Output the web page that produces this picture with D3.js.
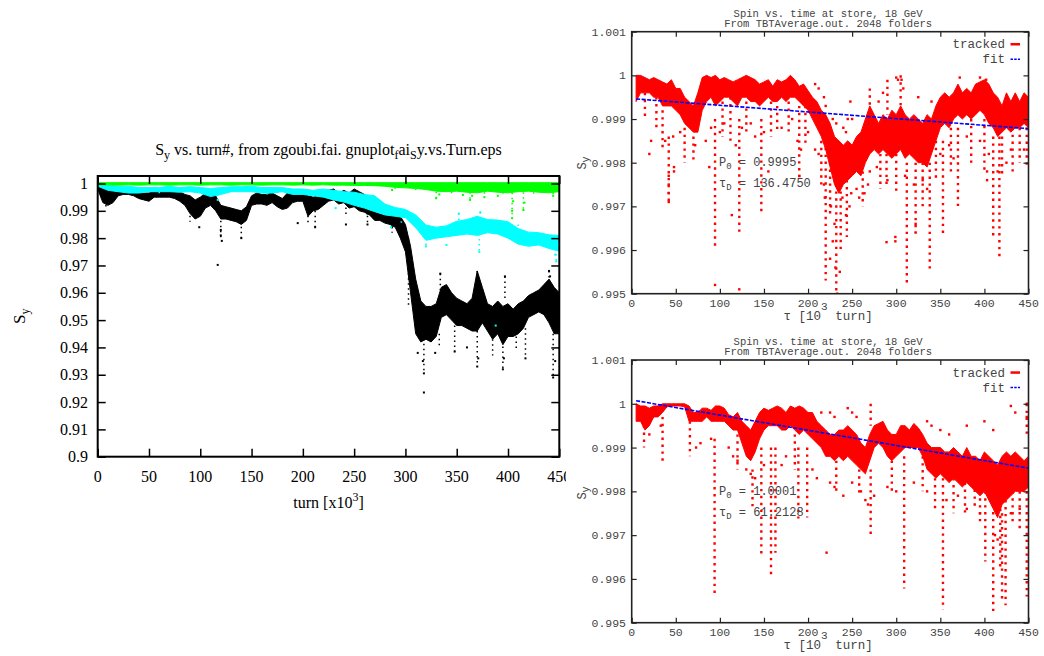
<!DOCTYPE html>
<html><head><meta charset="utf-8">
<script src="https://cdn.jsdelivr.net/npm/d3@7"></script>
<style>body{margin:0;background:#fff}</style>
</head><body><svg id="c" width="1044" height="656"></svg>
<script>
// ---------------- DATA ----------------
// Left panel: Sy vs turn (x in 10^3 turns)
const leftXTicks = [0,50,100,150,200,250,300,350,400,450];
const leftXLabels = ["0","50","100","150","200","250","300","350","400","450"];
const leftYTicks = [0.9,0.91,0.92,0.93,0.94,0.95,0.96,0.97,0.98,0.99,1];
const leftYLabels = ["0.9","0.91","0.92","0.93","0.94","0.95","0.96","0.97","0.98","0.99","1"];

const grid10 = [0,10,20,30,40,50,60,70,80,90,100,110,120,130,140,150,160,170,180,190,200,210,220,230,240,250,260,270,280,290,300,310,320,330,340,350,360,370,380,390,400,410,420,430,440,450];
const greenHi = [1.0003,1.0003,1.0003,1.0003,1.0003,1.0003,1.0003,1.0003,1.0003,1.0003,1.0003,1.0003,1.0003,1.0003,1.0003,1.0003,1.0003,1.0003,1.0003,1.0003,1.0003,1.0003,1.0003,1.0003,1.0003,1.0003,1.0003,1.0003,1.0003,1.0003,1.0003,1.0003,1.0003,1.0003,1.0003,1.0003,1.0003,1.0003,1.0003,1.0003,1.0003,1.0003,1.0003,1.0003,1.0003,1.0003];
const greenLo = [0.9995,0.9995,0.9994,0.9995,0.9994,0.9995,0.9995,0.9994,0.9995,0.9995,0.9994,0.9995,0.9995,0.9994,0.9995,0.9995,0.9994,0.9995,0.9995,0.9994,0.9995,0.9994,0.9995,0.9994,0.9994,0.9993,0.9993,0.9992,0.9990,0.9986,0.9984,0.9982,0.9978,0.9972,0.9970,0.9972,0.9968,0.9966,0.9972,0.9968,0.9966,0.9970,0.9972,0.9968,0.9966,0.9970];
const greenSpikes = [[287,0.9976],[330,0.9946],[333,0.9960],[363,0.9940],[365,0.9955],[377,0.9950],[404,0.9873],[404,0.9900],[405,0.9935],[415,0.9903],[416,0.9930],[444,0.9955],[356,0.9958],[390,0.9955]];
const greenStreaks = [[330,0.9970,0.9946],[363,0.9968,0.9940],[377,0.9968,0.9950],[404,0.9966,0.9873],[415,0.9968,0.9903],[444,0.9966,0.9955],[395,0.9968,0.9958],[425,0.9968,0.9960],[345,0.9970,0.9962],[310,0.9982,0.9970],[290,0.9986,0.9976]];

const cyanHi = [1.0003,0.9995,0.9990,0.9990,0.9985,0.9985,0.9985,0.9990,0.9985,0.9988,0.9985,0.9982,0.9985,0.9988,0.9988,0.9990,0.9985,0.9985,0.9985,0.9980,0.9980,0.9975,0.9980,0.9975,0.9970,0.9968,0.9960,0.9955,0.9925,0.9912,0.9905,0.9885,0.9848,0.9840,0.9845,0.9862,0.9868,0.9880,0.9868,0.9866,0.9860,0.9835,0.9822,0.9820,0.9812,0.9810];
const cyanLo = [0.9990,0.9975,0.9970,0.9965,0.9965,0.9970,0.9970,0.9970,0.9968,0.9970,0.9965,0.9952,0.9960,0.9970,0.9970,0.9970,0.9965,0.9965,0.9970,0.9960,0.9960,0.9955,0.9950,0.9940,0.9932,0.9920,0.9910,0.9897,0.9885,0.9880,0.9875,0.9838,0.9792,0.9800,0.9805,0.9810,0.9815,0.9810,0.9820,0.9815,0.9800,0.9778,0.9770,0.9775,0.9762,0.9752];
const cyanSpikes = [[117,0.9940],[232,0.9910],[286,0.9840],[352,0.9890],[373,0.9895],[372,0.9750],[388,0.9480],[447,0.9715],[446,0.9740],[320,0.9770],[340,0.9775]];
const cyanStreaks = [[117,0.9960,0.9940],[372,0.9815,0.9750],[447,0.9760,0.9715],[373,0.9895,0.9868],[352,0.9890,0.9860],[320,0.9835,0.9770],[265,0.9930,0.9895],[296,0.9880,0.9850],[410,0.9850,0.9800],[60,0.9970,0.9955],[165,0.9965,0.9950]];

const grid5 = [0,5,10,15,20,25,30,35,40,45,50,55,60,65,70,75,80,85,90,95,100,105,110,115,120,125,130,135,140,145,150,155,160,165,170,175,180,185,190,195,200,205,210,215,220,225,230,235,240,245,250,255,260,265,270,275,280,285,290,295,300,305,310,315,320,325,330,335,340,345,350,355,360,365,370,375,380,385,390,395,400,405,410,415,420,425,430,435,440,445,450];
const blackHi = [1.0000,0.9990,0.9980,0.9975,0.9980,0.9980,0.9980,0.9975,0.9965,0.9965,0.9965,0.9970,0.9970,0.9975,0.9970,0.9970,0.9970,0.9960,0.9955,0.9940,0.9950,0.9965,0.9960,0.9955,0.9920,0.9915,0.9910,0.9905,0.9900,0.9915,0.9955,0.9965,0.9960,0.9960,0.9965,0.9955,0.9945,0.9965,0.9965,0.9970,0.9975,0.9955,0.9950,0.9955,0.9960,0.9975,0.9980,0.9965,0.9975,0.9965,0.9980,0.9970,0.9960,0.9945,0.9925,0.9910,0.9905,0.9915,0.9900,0.9880,0.9850,0.9770,0.9650,0.9570,0.9550,0.9550,0.9560,0.9620,0.9630,0.9600,0.9580,0.9570,0.9560,0.9580,0.9680,0.9620,0.9560,0.9550,0.9570,0.9550,0.9560,0.9540,0.9560,0.9570,0.9590,0.9600,0.9610,0.9630,0.9650,0.9620,0.9600];
const blackLo = [0.9980,0.9930,0.9920,0.9930,0.9955,0.9960,0.9960,0.9955,0.9945,0.9940,0.9935,0.9950,0.9950,0.9950,0.9950,0.9945,0.9935,0.9920,0.9890,0.9870,0.9880,0.9910,0.9920,0.9900,0.9870,0.9870,0.9865,0.9860,0.9850,0.9865,0.9920,0.9925,0.9925,0.9920,0.9930,0.9915,0.9905,0.9910,0.9930,0.9935,0.9935,0.9880,0.9900,0.9905,0.9920,0.9935,0.9940,0.9925,0.9930,0.9910,0.9915,0.9900,0.9895,0.9885,0.9865,0.9865,0.9855,0.9850,0.9840,0.9800,0.9750,0.9600,0.9450,0.9420,0.9430,0.9420,0.9440,0.9510,0.9520,0.9500,0.9480,0.9480,0.9470,0.9460,0.9460,0.9490,0.9460,0.9430,0.9450,0.9410,0.9440,0.9440,0.9450,0.9470,0.9510,0.9520,0.9530,0.9520,0.9490,0.9450,0.9450];
const blackSpikes = [[117,0.9702],[120,0.9830],[120,0.9810],[121,0.9790],[99,0.9840],[140,0.9800],[195,0.9855],[212,0.9840],[242,0.9850],[263,0.9890],[263,0.9850],[287,0.9840],[318,0.9235],[318,0.9305],[317,0.9350],[348,0.9385],[370,0.9330],[371,0.9360],[360,0.9400],[395,0.9320],[396,0.9360],[417,0.9360],[444,0.9290],[446,0.9350],[334,0.9670],[397,0.9660],[440,0.9680],[441,0.9660],[312,0.9380],[329,0.9380]];
const blackStreaks = [[8,0.9940,0.9910],[90,0.9900,0.9860],[120,0.9900,0.9790],[140,0.9860,0.9800],[205,0.9900,0.9850],[212,0.9900,0.9840],[242,0.9930,0.9880],[263,0.9900,0.9850],[287,0.9860,0.9820],[303,0.9800,0.9550],[318,0.9450,0.9305],[348,0.9480,0.9385],[370,0.9460,0.9330],[395,0.9440,0.9320],[417,0.9470,0.9360],[444,0.9450,0.9290],[333,0.9450,0.9400],[370,0.9680,0.9590],[440,0.9680,0.9600],[334,0.9670,0.9600],[397,0.9660,0.9570],[385,0.9430,0.9370],[408,0.9440,0.9390]];

// Right panels (x in 10^3 turns)
const rightXTicks = [0,50,100,150,200,250,300,350,400,450];
const rightXLabels = ["0","50","100","150","200","250","300","350","400","450"];
const rightYTicks = [0.995,0.996,0.997,0.998,0.999,1,1.001];
const rightYLabels = ["0.995","0.996","0.997","0.998","0.999","1","1.001"];

const gridR = [5,10,15,20,25,30,35,40,45,50,55,60,65,70,75,80,85,90,95,100,105,110,115,120,125,130,135,140,145,150,155,160,165,170,175,180,185,190,195,200,205,210,215,220,225,230,235,240,245,250,255,260,265,270,275,280,285,290,295,300,305,310,315,320,325,330,335,340,345,350,355,360,365,370,375,380,385,390,395,400,405,410,415,420,425,430,435,440,445,450];
const topHi = [1.0000,1.0000,0.99995,0.9999,0.99995,0.9999,0.99985,0.9998,0.9999,0.9997,0.9997,0.9995,0.9994,0.9993,0.9996,0.99995,1.0000,0.99995,1.0000,0.9999,0.99995,0.9999,0.99985,0.9999,0.99995,1.0000,0.99995,0.9999,0.9998,0.99985,0.9999,0.99975,0.9999,0.99985,0.9999,1.0000,0.9999,0.99975,0.9998,0.99965,0.9995,0.9994,0.9992,0.9991,0.9989,0.9986,0.9985,0.9984,0.9985,0.9984,0.9986,0.9987,0.9990,0.9993,0.9991,0.9989,0.9991,0.9990,0.9992,0.9991,0.9993,0.9991,0.9990,0.9991,0.9990,0.9989,0.9991,0.9990,0.9993,0.9995,0.9996,0.9995,0.9996,0.9998,0.9996,0.9997,0.9996,0.9998,0.99985,0.9999,0.9998,0.9996,0.9995,0.9993,0.9996,0.9994,0.9996,0.9994,0.9996,0.9995];
const topLo = [0.9994,0.9996,0.9996,0.9996,0.9995,0.9995,0.9993,0.9993,0.9993,0.9992,0.9991,0.9989,0.9988,0.9987,0.9987,0.9992,0.9994,0.9995,0.9993,0.9994,0.9995,0.9995,0.9994,0.9993,0.9995,0.9995,0.9994,0.9994,0.9993,0.9994,0.9995,0.9994,0.9994,0.9995,0.9994,0.9995,0.9995,0.9994,0.9993,0.9992,0.9990,0.9988,0.9986,0.9983,0.9979,0.9975,0.9973,0.9975,0.9976,0.9977,0.9978,0.9977,0.9980,0.9982,0.9983,0.9982,0.9983,0.9982,0.9981,0.9982,0.9983,0.9981,0.9982,0.9981,0.9980,0.9980,0.9979,0.9982,0.9985,0.9988,0.9989,0.9988,0.9990,0.9991,0.9990,0.9991,0.9990,0.9991,0.9992,0.9991,0.9989,0.9988,0.9986,0.9987,0.9988,0.9987,0.9988,0.9988,0.9989,0.9988];
const topSpikes = [[42,0.9977],[42,0.9975],[42,0.9973],[42,0.9971],[48,0.9979],[48,0.9978],[88,0.9979],[94.5,0.9952],[113.5,0.9968],[122,0.9951],[155,0.9978],[190,0.9977],[225,0.9958],[228,0.9962],[230,0.9966],[231,0.9956],[233,0.9950],[236,0.9955],[243,0.9968],[247,0.9970],[264,0.9973],[268,0.9975],[289,0.99618],[299,0.9963],[299,0.9962],[322,0.9964],[322,0.9966],[403,0.9978],[403,0.9976],
[20,0.9982],[22,0.9985],[38,0.9985],[47,0.9986],[55,0.9987],[72,0.9984],[84,0.9985],[90,0.9988],[100,0.9987],[105,0.9989],[118,0.9984],[125,0.9988],[135,0.9989],[140,0.9986],[150,0.9987],[170,0.9988],[182,0.9990],[188,0.9985],[192,0.9983],[200,0.9987],[208,0.9983],[212,0.9982],[218,0.9975],[219,0.9972],[226,0.9970],[239,0.9972],[249,0.9973],[255,0.9974],[258,0.9972],[270,0.9978],[278,0.9979],[290,0.9976],[310,0.9977],[320,0.9975],[330,0.9976],[335,0.9974],[350,0.9982],[360,0.9984],[365,0.9981],[380,0.9986],[395,0.9985],[405,0.9982],[415,0.9978],[425,0.9980],[430,0.9983],[445,0.9983],
[300,0.99995],[302,0.9999],[306,0.9999],[308,0.9997],[325,0.9995],[340,0.9994],[248,0.9994],[250,0.9990],[280,0.9994],[285,0.9996],[372,0.99995],[395,0.99995],[402,0.9999],[208,0.9998],[212,0.9997],[218,0.9995],[220,0.9993],[228,0.9990],[232,0.9989],[240,0.9988],[243,0.9987],[245,0.9990]];
const topStreaks = [[42,0.9986,0.9971],[94.5,0.9990,0.9960],[122,0.9990,0.9964],[147,0.9990,0.9968],[220,0.9985,0.9953],[232,0.9975,0.9950],[244,0.9976,0.9963],[312,0.9980,0.9952],[338,0.9980,0.9955],[353,0.9985,0.9963],[370,0.9988,0.9970],[410,0.9986,0.9963],[417,0.9986,0.9958],[35,0.9992,0.9983],[60,0.9988,0.9980],[70,0.9986,0.9980],[103,0.9994,0.9986],[130,0.9994,0.9987],[165,0.9993,0.9987],[190,0.9993,0.9976],[215,0.9985,0.9975],[225,0.9980,0.9968],[237,0.9975,0.9960],[289,0.9982,0.9975],[300,0.9982,0.9973],[322,0.9980,0.9964],[345,0.9985,0.9976],[400,0.9990,0.9978],[420,0.9986,0.9977],[440,0.9988,0.9980],[305,1.0000,0.9992],[290,0.9999,0.9991],[270,0.9997,0.9992],[15,0.9996,0.9990],[28,0.9995,0.9988],[112,0.9995,0.9985],[158,0.9994,0.9986],[178,0.9994,0.9987],[197,0.9993,0.9984],[262,0.9978,0.9970],[282,0.9982,0.9974],[330,0.9980,0.9970],[362,0.9988,0.9978],[385,0.9990,0.9980],[432,0.9988,0.9978],[448,0.9988,0.9979]];
const topFitX = [5,450];
const topFitY = [0.99946,0.99878];

const botHi = [1.0000,0.99995,0.99995,0.9999,0.99995,0.99995,1.0000,1.0000,1.0000,1.0000,1.0000,1.0000,0.99995,0.9998,0.9998,0.9999,0.9999,0.99985,0.99995,0.99995,0.9999,0.99975,0.9997,0.9998,0.9996,0.9995,0.9994,0.9996,0.9998,0.9999,0.99985,0.9999,0.99995,0.9999,0.9998,0.99995,0.9999,0.99995,0.9999,0.9998,0.9998,0.9996,0.9995,0.9994,0.9993,0.9993,0.9994,0.9994,0.9995,0.9994,0.9993,0.9991,0.9990,0.9993,0.9995,0.99955,0.9996,0.9994,0.9993,0.9993,0.9995,0.9995,0.9994,0.99955,0.99945,0.9993,0.9991,0.9990,0.9990,0.9990,0.9989,0.9989,0.9990,0.9989,0.9988,0.9990,0.9988,0.9988,0.9987,0.9989,0.9988,0.9987,0.9986,0.9988,0.9989,0.9988,0.9989,0.9988,0.9987,0.9988];
const botLo = [0.9996,0.9996,0.9994,0.9995,0.9997,0.9997,0.9998,0.99993,0.99995,0.99995,0.99995,0.99993,0.9996,0.9996,0.9996,0.9996,0.9997,0.9996,0.9996,0.9996,0.9996,0.9995,0.9994,0.9994,0.9991,0.9988,0.9987,0.9989,0.9992,0.9994,0.9995,0.9995,0.9995,0.9994,0.9994,0.9995,0.9994,0.9993,0.9994,0.9993,0.9992,0.9991,0.9990,0.9988,0.9988,0.9987,0.9988,0.9987,0.9988,0.9987,0.9986,0.9985,0.9984,0.9987,0.9990,0.9991,0.9990,0.9988,0.9987,0.9988,0.9989,0.9990,0.9990,0.9990,0.9990,0.9988,0.9985,0.9984,0.9983,0.9984,0.9983,0.9982,0.9983,0.9982,0.9981,0.9982,0.9981,0.9980,0.9979,0.9980,0.9978,0.9976,0.9974,0.9977,0.9978,0.9979,0.9980,0.9980,0.9980,0.9981];
const botSpikes = [[20,0.9993],[33,0.9995],[73,0.9990],[78,0.9991],[90,0.9992],[110,0.9990],[115,0.9988],[120,0.9987],[130,0.9985],[135,0.9984],[140,0.9983],[150,0.9986],[170,0.9986],[175,0.9988],[205,0.9985],[210,0.9983],[221,0.9966],[225,0.9982],[230,0.9981],[240,0.9979],[250,0.9982],[260,0.9980],[265,0.9978],[268,0.9977],[275,0.9979],[290,0.9981],[300,0.9980],[320,0.9982],[335,0.9980],[357,0.9978],[370,0.9979],[380,0.9976],[395,0.9975],[412,0.9970],[415,0.9969],[430,0.9975],[440,0.9976],
[250,0.9998],[255,0.9997],[245,0.9999],[230,0.9997],[335,0.9996],[340,0.9995],[350,0.9994],[360,0.9993],[380,0.9995],[400,0.9996],[410,0.9994],[430,0.99995],[435,0.9998],[448,1.0],[448,0.9997],[225,0.9998],[215,0.9998]];
const botStreaks = [[14,0.9995,0.9990],[35,0.9997,0.9986],[66,0.9996,0.9988],[94,0.9992,0.9956],[137,0.9985,0.9976],[147,0.9990,0.9965],[158,0.9990,0.9961],[163,0.9990,0.9966],[189,0.9990,0.99738],[199,0.9990,0.9974],[271,0.9985,0.9970],[271,1.0000,0.9995],[309,0.9988,0.99578],[344,0.9983,0.9976],[353,0.9983,0.9953],[389,0.9982,0.9976],[401,0.9980,0.9964],[410,0.9980,0.9952],[418,0.9976,0.9962],[420,0.9975,0.9955],[424,0.9978,0.9954],[448,0.9980,0.9956],[448,1.0000,0.9993],[120,0.9993,0.9985],[185,0.9993,0.9985],[232,0.9987,0.9980],[258,0.9985,0.9979],[295,0.9987,0.9980],[330,0.9988,0.9980],[365,0.9983,0.9975],[378,0.9982,0.9975],[395,0.9980,0.9973],[432,0.9980,0.9973],[440,0.9980,0.9971]];
const botFitX = [5,450];
const botFitY = [1.00007,0.99853];

// ---------------- DRAW ----------------
const svg = d3.select("#c");
svg.append("rect").attr("width",1044).attr("height",656).attr("fill","#fff");

// ===== Left panel =====
const lx = d3.scaleLinear().domain([0,450]).range([97.7,559.3]);
const ly = d3.scaleLinear().domain([0.9,1]).range([456.7,183.5]);
const lyTop = 1.00275;
const defs = svg.append("defs");
defs.append("clipPath").attr("id","lclip").append("rect").attr("x",0).attr("y",0).attr("width",566).attr("height",656);
defs.append("clipPath").attr("id","lplot").append("rect").attr("x",lx(0)).attr("y",ly(lyTop)).attr("width",lx(450)-lx(0)).attr("height",ly(0.9)-ly(lyTop));
const LG = svg.append("g").attr("clip-path","url(#lclip)");
const serif = "'Liberation Serif','DejaVu Serif',serif";

const LP = LG.append("g").attr("clip-path","url(#lplot)");
function band(g, xs, hi, lo, xS, yS, color){
  const data = xs.map((x,i)=>({x, hi:hi[i], lo:lo[i]}));
  g.append("path").datum(data)
   .attr("d", d3.area().x(d=>xS(d.x)).y0(d=>yS(d.lo)).y1(d=>yS(d.hi)))
   .attr("fill", color).attr("stroke", color).attr("stroke-width",1);
}
function dots(g, pts, xS, yS, color, s){
  g.selectAll(null).data(pts).enter().append("rect")
   .attr("x", d=>xS(d[0])-s/2).attr("y", d=>yS(d[1])-s/2)
   .attr("width", s).attr("height", s).attr("fill", color);
}
function streaks(g, seg, xS, yS, color, w, dash){
  g.selectAll(null).data(seg).enter().append("line")
   .attr("x1", d=>xS(d[0])).attr("x2", d=>xS(d[0]))
   .attr("y1", d=>yS(d[1])).attr("y2", d=>yS(d[2]))
   .attr("stroke", color).attr("stroke-width", w).attr("stroke-dasharray", dash);
}
band(LP, grid5, blackHi, blackLo, lx, ly, "#000");
streaks(LP, blackStreaks, lx, ly, "#000", 1.5, "1.5,3.5");
dots(LP, blackSpikes, lx, ly, "#000", 2);
band(LP, grid10, cyanHi, cyanLo, lx, ly, "#00ffff");
streaks(LP, cyanStreaks, lx, ly, "#00ffff", 1.5, "1.5,3.5");
dots(LP, cyanSpikes, lx, ly, "#00ffff", 2);
band(LP, grid10, greenHi, greenLo, lx, ly, "#00ff00");
streaks(LP, greenStreaks, lx, ly, "#00ff00", 1.5, "1.5,3.5");
dots(LP, greenSpikes, lx, ly, "#00ff00", 2);

// frame
LG.append("rect").attr("x",lx(0)).attr("y",ly(lyTop)).attr("width",lx(450)-lx(0)).attr("height",ly(0.9)-ly(lyTop))
  .attr("fill","none").attr("stroke","#000").attr("stroke-width",2);
function ticks(g, axis, tr){
  const a = g.append("g").attr("transform",tr).call(axis);
  a.select(".domain").remove();
  a.selectAll("text").remove();
  return a;
}
const tl = 8;
ticks(LG, d3.axisBottom(lx).tickValues(leftXTicks).tickSizeInner(-tl).tickSizeOuter(0), `translate(0,${ly(0.9)})`).selectAll("line").attr("stroke","#000").attr("stroke-width",1.5);
ticks(LG, d3.axisTop(lx).tickValues(leftXTicks).tickSizeInner(-tl).tickSizeOuter(0), `translate(0,${ly(lyTop)})`).selectAll("line").attr("stroke","#000").attr("stroke-width",1.5);
ticks(LG, d3.axisLeft(ly).tickValues(leftYTicks).tickSizeInner(-tl).tickSizeOuter(0), `translate(${lx(0)},0)`).selectAll("line").attr("stroke","#000").attr("stroke-width",1.5);
ticks(LG, d3.axisRight(ly).tickValues(leftYTicks).tickSizeInner(-tl).tickSizeOuter(0), `translate(${lx(450)},0)`).selectAll("line").attr("stroke","#000").attr("stroke-width",1.5);

LG.selectAll(null).data(leftXTicks).enter().append("text")
  .attr("x", d=>lx(d)).attr("y", 481.5).attr("text-anchor","middle")
  .attr("font-family",serif).attr("font-size",16).attr("fill","#000")
  .text((d,i)=>leftXLabels[i]);
LG.selectAll(null).data(leftYTicks).enter().append("text")
  .attr("x", 88).attr("y", d=>ly(d)+5.5).attr("text-anchor","end")
  .attr("font-family",serif).attr("font-size",16).attr("fill","#000")
  .text((d,i)=>leftYLabels[i]);

// title
const lt = LG.append("text").attr("x",(lx(0)+lx(450))/2).attr("y",155).attr("text-anchor","middle")
  .attr("font-family",serif).attr("font-size",16).attr("fill","#000");
lt.append("tspan").text("S");
lt.append("tspan").attr("dy",4).attr("font-size",12).text("y");
lt.append("tspan").attr("dy",-4).text(" vs. turn#, from zgoubi.fai. gnuplot");
lt.append("tspan").attr("dy",4).attr("font-size",12).text("f");
lt.append("tspan").attr("dy",-4).text("ai");
lt.append("tspan").attr("dy",4).attr("font-size",12).text("S");
lt.append("tspan").attr("dy",-4).text("y.vs.Turn.eps");

// x label
const lxl = LG.append("text").attr("x",(lx(0)+lx(450))/2).attr("y",508).attr("text-anchor","middle")
  .attr("font-family",serif).attr("font-size",16).attr("fill","#000");
lxl.append("tspan").text("turn [x10");
lxl.append("tspan").attr("dy",-7).attr("font-size",12).text("3");
lxl.append("tspan").attr("dy",7).text("]");
// y label
const lyl = LG.append("text").attr("transform",`translate(25,${(ly(0.9)+ly(lyTop))/2}) rotate(-90)`)
  .attr("text-anchor","middle").attr("font-family",serif).attr("font-size",17).attr("fill","#000");
lyl.append("tspan").text("S");
lyl.append("tspan").attr("dy",4).attr("font-size",12).text("y");

// ===== Right panels =====
const mono = "'Liberation Mono','DejaVu Sans Mono',monospace";
const grey = "#444";
function rightPanel(o){
  const x = d3.scaleLinear().domain([0,450]).range([631.7,1028.5]);
  const y = d3.scaleLinear().domain([0.995,1.001]).range([o.yb,o.yt]);
  const g = svg.append("g");
  const cid = "rc"+o.id;
  defs.append("clipPath").attr("id",cid).append("rect").attr("x",x(0)).attr("y",y(1.001)).attr("width",x(450)-x(0)).attr("height",y(0.995)-y(1.001));
  const P = g.append("g").attr("clip-path",`url(#${cid})`);
  band(P, gridR, o.hi, o.lo, x, y, "#ff0000");
  streaks(P, o.streaks, x, y, "#ff0000", 2.4, "2.4,4.5");
  dots(P, o.spikes, x, y, "#ff0000", 2.4);
  const fit = o.fitX.map((v,i)=>[v,o.fitY[i]]);
  P.append("path").datum(fit).attr("d", d3.line().x(d=>x(d[0])).y(d=>y(d[1])))
    .attr("stroke","#0000ff").attr("stroke-width",1.6).attr("stroke-dasharray","4,1.5").attr("fill","none");
  g.append("rect").attr("x",x(0)).attr("y",y(1.001)).attr("width",x(450)-x(0)).attr("height",y(0.995)-y(1.001))
    .attr("fill","none").attr("stroke","#222").attr("stroke-width",1.6);
  const t = 5;
  ticks(g, d3.axisBottom(x).tickValues(rightXTicks).tickSizeInner(-t).tickSizeOuter(0), `translate(0,${y(0.995)})`).selectAll("line").attr("stroke","#222").attr("stroke-width",1.2);
  ticks(g, d3.axisTop(x).tickValues(rightXTicks).tickSizeInner(-t).tickSizeOuter(0), `translate(0,${y(1.001)})`).selectAll("line").attr("stroke","#222").attr("stroke-width",1.2);
  ticks(g, d3.axisLeft(y).tickValues(rightYTicks).tickSizeInner(-t).tickSizeOuter(0), `translate(${x(0)},0)`).selectAll("line").attr("stroke","#222").attr("stroke-width",1.2);
  ticks(g, d3.axisRight(y).tickValues(rightYTicks).tickSizeInner(-t).tickSizeOuter(0), `translate(${x(450)},0)`).selectAll("line").attr("stroke","#222").attr("stroke-width",1.2);
  g.selectAll(null).data(rightXTicks).enter().append("text")
    .attr("x", d=>x(d)).attr("y", y(0.995)+13).attr("text-anchor","middle")
    .attr("font-family",mono).attr("font-size",11.5).attr("fill",grey)
    .text((d,i)=>rightXLabels[i]);
  g.selectAll(null).data(rightYTicks).enter().append("text")
    .attr("x", 626).attr("y", d=>y(d)+4).attr("text-anchor","end")
    .attr("font-family",mono).attr("font-size",11.5).attr("fill",grey)
    .text((d,i)=>rightYLabels[i]);
  const cx = (x(0)+x(450))/2;
  g.append("text").attr("x",cx-2).attr("y",o.yt-15).attr("text-anchor","middle").attr("font-family",mono).attr("font-size",10.5).attr("fill",grey).text("Spin vs. time at store, 18 GeV");
  g.append("text").attr("x",cx-2).attr("y",o.yt-5).attr("text-anchor","middle").attr("font-family",mono).attr("font-size",10.5).attr("fill",grey).text("From TBTAverage.out. 2048 folders");
  const xl = g.append("text").attr("x",cx-2).attr("y",y(0.995)+26).attr("text-anchor","middle").attr("font-family",mono).attr("font-size",12.5).attr("fill",grey);
  xl.append("tspan").text("τ [10");
  xl.append("tspan").attr("dy",-10).attr("font-size",11).text("3");
  xl.append("tspan").attr("dy",10).text(" turn]");
  const yl = g.append("text").attr("transform",`translate(586,${o.ylab}) rotate(-90)`).attr("text-anchor","middle").attr("font-family",mono).attr("font-size",12).attr("fill",grey);
  yl.append("tspan").text("S");
  yl.append("tspan").attr("dy",3).attr("font-size",10).text("y");
  g.append("text").attr("x",1005).attr("y",o.yt+16.5).attr("text-anchor","end").attr("font-family",mono).attr("font-size",12.5).attr("fill",grey).text("tracked");
  g.append("rect").attr("x",1010.5).attr("y",o.yt+11.3).attr("width",9.5).attr("height",2.5).attr("fill","#ff0000");
  g.append("text").attr("x",1005).attr("y",o.yt+31.5).attr("text-anchor","end").attr("font-family",mono).attr("font-size",12.5).attr("fill",grey).text("fit");
  g.append("line").attr("x1",1010.5).attr("x2",1020).attr("y1",o.yt+27.5).attr("y2",o.yt+27.5).attr("stroke","#0000ff").attr("stroke-width",1.5).attr("stroke-dasharray","2.5,1.2");
  const a1 = g.append("text").attr("x",719).attr("y",o.ann).attr("font-family",mono).attr("font-size",12).attr("fill",grey);
  a1.append("tspan").text("P");
  a1.append("tspan").attr("dy",3).attr("font-size",9).text("0");
  a1.append("tspan").attr("dy",-3).text(" = " + o.p0);
  const a2 = g.append("text").attr("x",719).attr("y",o.ann+21).attr("font-family",mono).attr("font-size",12).attr("fill",grey);
  a2.append("tspan").text("τ");
  a2.append("tspan").attr("dy",3).attr("font-size",9).text("D");
  a2.append("tspan").attr("dy",-3).text(" = " + o.tau);
}
rightPanel({id:1, yt:31.7, yb:293.7, hi:topHi, lo:topLo, spikes:topSpikes, streaks:topStreaks, fitX:topFitX, fitY:topFitY, ylab:163, ann:166, p0:"0.9995", tau:"136.4750"});
rightPanel({id:2, yt:360, yb:622.7, hi:botHi, lo:botLo, spikes:botSpikes, streaks:botStreaks, fitX:botFitX, fitY:botFitY, ylab:493, ann:495, p0:"1.0001", tau:"61.2128"});
</script></body></html>
